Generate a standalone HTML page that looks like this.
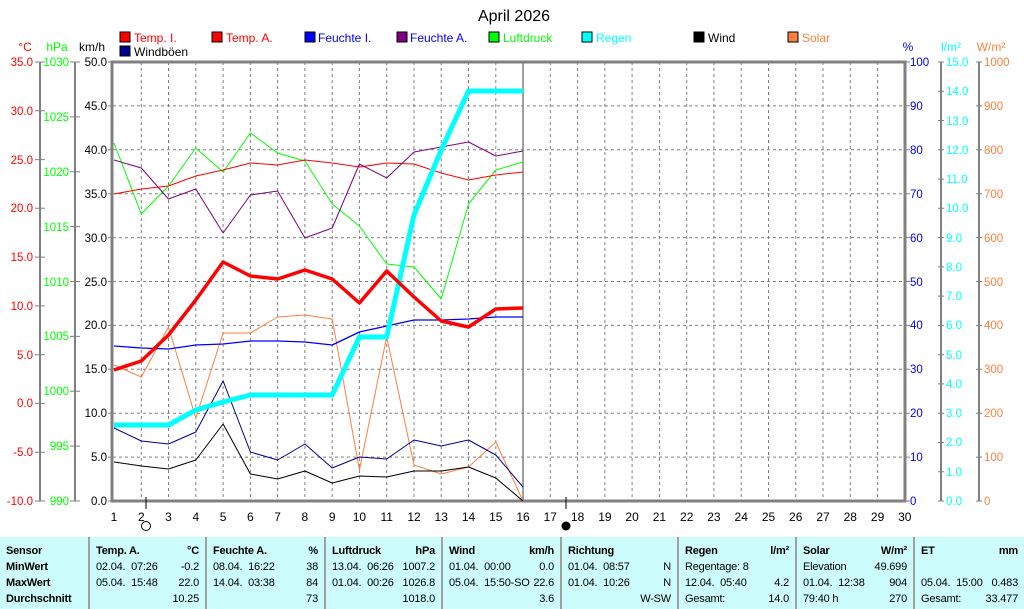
<!DOCTYPE html>
<html><head><meta charset="utf-8"><style>
body{margin:0;width:1024px;height:609px;background:#fff;overflow:hidden;font-family:"Liberation Sans",sans-serif}
svg text{font-family:"Liberation Sans",sans-serif}
.tb{position:absolute;left:0;top:537px;width:1024px;height:72px;background:#ccfcfc;font-size:11px;letter-spacing:-0.2px}
.col{position:absolute;top:0;height:72px;border-left:2px solid #a0a0a0;box-sizing:border-box}
.r{position:absolute;left:6px;right:6px;height:16px;white-space:nowrap}
.r span{position:absolute;right:0}
.b{font-weight:bold}
</style></head><body>
<svg width="1024" height="537" style="position:absolute;left:0;top:0">
<text x="514" y="21" font-size="16" text-anchor="middle">April 2026</text>
<g font-size="12">
<rect x="120" y="32" width="10" height="10" fill="#f00" stroke="#000"/><text x="134" y="42" fill="#f00">Temp. I.</text>
<rect x="212" y="32" width="10" height="10" fill="#f00" stroke="#000"/><text x="226" y="42" fill="#f00">Temp. A.</text>
<rect x="305" y="32" width="10" height="10" fill="#00f" stroke="#000"/><text x="318" y="42" fill="#00f">Feuchte I.</text>
<rect x="397" y="32" width="10" height="10" fill="#800080" stroke="#000"/><text x="410" y="42" fill="#00f">Feuchte A.</text>
<rect x="489" y="32" width="10" height="10" fill="#0f0" stroke="#000"/><text x="503" y="42" fill="#0f0">Luftdruck</text>
<rect x="582" y="32" width="10" height="10" fill="#0ff" stroke="#000"/><text x="596" y="42" fill="#0ff">Regen</text>
<rect x="694" y="32" width="10" height="10" fill="#000" stroke="#000"/><text x="708" y="42" fill="#000">Wind</text>
<rect x="788" y="32" width="10" height="10" fill="#ff7f3f" stroke="#000"/><text x="802" y="42" fill="#ff7f3f">Solar</text>
<rect x="120" y="46" width="10" height="10" fill="#000090" stroke="#000"/><text x="134" y="56" fill="#000">Windböen</text>
<text x="25" y="51" fill="#f00" text-anchor="middle">°C</text>
<text x="57" y="51" fill="#0f0" text-anchor="middle">hPa</text>
<text x="92" y="51" fill="#000" text-anchor="middle">km/h</text>
<text x="908" y="51" fill="#00f" text-anchor="middle">%</text>
<text x="951" y="51" fill="#0ff" text-anchor="middle">l/m²</text>
<text x="991" y="51" fill="#ff7f3f" text-anchor="middle">W/m²</text>
</g>
<g stroke="#808080" stroke-dasharray="3,3" stroke-width="1">
<path d="M113 105.9H905M113 149.8H905M113 193.7H905M113 237.6H905M113 281.5H905M113 325.4H905M113 369.3H905M113 413.2H905M113 457.1H905"/>
<path d="M141.3 62V501M168.5 62V501M195.8 62V501M223.1 62V501M250.4 62V501M277.6 62V501M304.9 62V501M332.2 62V501M359.4 62V501M386.7 62V501M414 62V501M441.2 62V501M468.5 62V501M495.8 62V501M550.3 62V501M577.6 62V501M604.9 62V501M632.1 62V501M659.4 62V501M686.7 62V501M713.9 62V501M741.2 62V501M768.5 62V501M795.7 62V501M823 62V501M850.3 62V501M877.6 62V501"/>
</g>
<g stroke="#808080" fill="none">
<path d="M523 62V501" stroke-width="1.5"/>
<path d="M112 62H905V501H112Z" stroke-width="3"/>
<path d="M40 62V501M75 62V501M941 62V501M979 62V501" stroke-width="2"/>
<path d="M35 62h10M35 110.8h10M35 159.6h10M35 208.3h10M35 257.1h10M35 305.9h10M35 354.7h10M35 403.4h10M35 452.2h10M35 501h10"/>
<path d="M70 62h10M70 116.9h10M70 171.8h10M70 226.6h10M70 281.5h10M70 336.4h10M70 391.2h10M70 446.1h10M70 501h10"/>
<path d="M108 62h5M108 105.9h5M108 149.8h5M108 193.7h5M108 237.6h5M108 281.5h5M108 325.4h5M108 369.3h5M108 413.2h5M108 457.1h5M108 501h5"/>
<path d="M905 62h5M905 105.9h5M905 149.8h5M905 193.7h5M905 237.6h5M905 281.5h5M905 325.4h5M905 369.3h5M905 413.2h5M905 457.1h5M905 501h5"/>
<path d="M938 62h6M938 91.3h6M938 120.5h6M938 149.8h6M938 179.1h6M938 208.3h6M938 237.6h6M938 266.9h6M938 296.1h6M938 325.4h6M938 354.7h6M938 383.9h6M938 413.2h6M938 442.5h6M938 471.7h6M938 501h6"/>
<path d="M976 62h6M976 105.9h6M976 149.8h6M976 193.7h6M976 237.6h6M976 281.5h6M976 325.4h6M976 369.3h6M976 413.2h6M976 457.1h6M976 501h6"/>
</g>
<g stroke="#000" fill="none"><path d="M146 497V509M566 497V509"/><circle cx="146" cy="526" r="4.5"/></g>
<circle cx="566" cy="526" r="4.5" fill="#000"/>
<g font-size="11.5" text-anchor="end">
<g fill="#f00"><text x="33" y="66">35.0</text><text x="33" y="115">30.0</text><text x="33" y="164">25.0</text><text x="33" y="212">20.0</text><text x="33" y="261">15.0</text><text x="33" y="310">10.0</text><text x="33" y="359">5.0</text><text x="33" y="407">0.0</text><text x="33" y="456">-5.0</text><text x="33" y="505">-10.0</text></g>
<g fill="#0f0"><text x="69" y="66">1030</text><text x="69" y="121">1025</text><text x="69" y="176">1020</text><text x="69" y="231">1015</text><text x="69" y="286">1010</text><text x="69" y="340">1005</text><text x="69" y="395">1000</text><text x="69" y="450">995</text><text x="69" y="505">990</text></g>
<g fill="#000"><text x="107" y="66">50.0</text><text x="107" y="110">45.0</text><text x="107" y="154">40.0</text><text x="107" y="198">35.0</text><text x="107" y="242">30.0</text><text x="107" y="286">25.0</text><text x="107" y="329">20.0</text><text x="107" y="373">15.0</text><text x="107" y="417">10.0</text><text x="107" y="461">5.0</text><text x="107" y="505">0.0</text></g>
</g>
<g font-size="11.5">
<g fill="#00f"><text x="910" y="66">100</text><text x="910" y="110">90</text><text x="910" y="154">80</text><text x="910" y="198">70</text><text x="910" y="242">60</text><text x="910" y="286">50</text><text x="910" y="329">40</text><text x="910" y="373">30</text><text x="910" y="417">20</text><text x="910" y="461">10</text><text x="910" y="505">0</text></g>
<g fill="#0ff"><text x="946" y="66">15.0</text><text x="946" y="95">14.0</text><text x="946" y="125">13.0</text><text x="946" y="154">12.0</text><text x="946" y="183">11.0</text><text x="946" y="212">10.0</text><text x="946" y="242">9.0</text><text x="946" y="271">8.0</text><text x="946" y="300">7.0</text><text x="946" y="329">6.0</text><text x="946" y="359">5.0</text><text x="946" y="388">4.0</text><text x="946" y="417">3.0</text><text x="946" y="446">2.0</text><text x="946" y="476">1.0</text><text x="946" y="505">0.0</text></g>
<g fill="#ff7f3f"><text x="984" y="66">1000</text><text x="984" y="110">900</text><text x="984" y="154">800</text><text x="984" y="198">700</text><text x="984" y="242">600</text><text x="984" y="286">500</text><text x="984" y="329">400</text><text x="984" y="373">300</text><text x="984" y="417">200</text><text x="984" y="461">100</text><text x="984" y="505">0</text></g>
</g>
<g font-size="12" text-anchor="middle" fill="#000">
<text x="114" y="521">1</text><text x="141.3" y="521">2</text><text x="168.5" y="521">3</text><text x="195.8" y="521">4</text><text x="223.1" y="521">5</text><text x="250.4" y="521">6</text><text x="277.6" y="521">7</text><text x="304.9" y="521">8</text><text x="332.2" y="521">9</text><text x="359.4" y="521">10</text><text x="386.7" y="521">11</text><text x="414" y="521">12</text><text x="441.2" y="521">13</text><text x="468.5" y="521">14</text><text x="495.8" y="521">15</text><text x="523" y="521">16</text><text x="550.3" y="521">17</text><text x="577.6" y="521">18</text><text x="604.9" y="521">19</text><text x="632.1" y="521">20</text><text x="659.4" y="521">21</text><text x="686.7" y="521">22</text><text x="713.9" y="521">23</text><text x="741.2" y="521">24</text><text x="768.5" y="521">25</text><text x="795.7" y="521">26</text><text x="823" y="521">27</text><text x="850.3" y="521">28</text><text x="877.6" y="521">29</text><text x="904.8" y="521">30</text>
</g>
<g fill="none" stroke-linejoin="round">
<polyline stroke="#ff7f3f" points="114,365 141.3,377 168.5,327 195.8,418 223.1,333 250.4,333 277.6,317 304.9,315 332.2,319 359.4,470 386.7,337 414,465 441.2,474 468.5,467 495.8,442 523,501"/>
<polyline stroke="#000" points="114,462 141.3,466 168.5,469 195.8,460 223.1,424 250.4,474 277.6,479 304.9,471 332.2,483 359.4,476 386.7,477 414,471 441.2,471 468.5,467 495.8,478 523,501"/>
<polyline stroke="#000090" points="114,428 141.3,441 168.5,444 195.8,432 223.1,381 250.4,452 277.6,460 304.9,444 332.2,468 359.4,457 386.7,459 414,440 441.2,446 468.5,440 495.8,455 523,487"/>
<polyline stroke="#0f0" points="114,143 141.3,214 168.5,186 195.8,148 223.1,172 250.4,133 277.6,153 304.9,161 332.2,204 359.4,226 386.7,264 414,267 441.2,299 468.5,204 495.8,170 523,162"/>
<polyline stroke="#800080" points="114,160 141.3,168 168.5,199 195.8,189 223.1,233 250.4,195 277.6,191 304.9,238 332.2,228 359.4,164 386.7,178 414,152 441.2,147 468.5,142 495.8,156 523,151"/>
<polyline stroke="#00f" stroke-width="1.3" points="114,346 141.3,348 168.5,349 195.8,345 223.1,344 250.4,341 277.6,341 304.9,342 332.2,345 359.4,332 386.7,326 414,320 441.2,320 468.5,319 495.8,317 523,317"/>
<polyline stroke="#f00" points="114,194 141.3,189 168.5,186 195.8,176 223.1,170 250.4,163 277.6,165 304.9,160 332.2,163 359.4,167 386.7,163 414,164 441.2,173 468.5,180 495.8,175 523,172"/>
<polyline stroke="#0ff" stroke-width="5" points="114,425 141.3,425 168.5,425 195.8,410 223.1,402 250.4,395 277.6,395 304.9,395 332.2,395 359.4,337 386.7,337 414,215 441.2,150 468.5,91 495.8,91 523,91"/>
<polyline stroke="#f00" stroke-width="3.5" points="114,370 141.3,361 168.5,335 195.8,300 223.1,262 250.4,276 277.6,279 304.9,270 332.2,279 359.4,303 386.7,271 414,297 441.2,321 468.5,327 495.8,309 523,308"/>
</g>
</svg>
<div class="tb">
<div class="col" style="left:0;width:88px;border-left:none">
<div class="r b" style="top:8px">Sensor</div><div class="r b" style="top:24px">MinWert</div><div class="r b" style="top:40px">MaxWert</div><div class="r b" style="top:56px">Durchschnitt</div></div>
<div class="col" style="left:88px;width:117px">
<div class="r b" style="top:8px">Temp. A.<span>°C</span></div><div class="r" style="top:24px">02.04.&nbsp; 07:26<span>-0.2</span></div><div class="r" style="top:40px">05.04.&nbsp; 15:48<span>22.0</span></div><div class="r" style="top:56px"><span>10.25</span></div></div>
<div class="col" style="left:205px;width:119px">
<div class="r b" style="top:8px">Feuchte A.<span>%</span></div><div class="r" style="top:24px">08.04.&nbsp; 16:22<span>38</span></div><div class="r" style="top:40px">14.04.&nbsp; 03:38<span>84</span></div><div class="r" style="top:56px"><span>73</span></div></div>
<div class="col" style="left:324px;width:117px">
<div class="r b" style="top:8px">Luftdruck<span>hPa</span></div><div class="r" style="top:24px">13.04.&nbsp; 06:26<span>1007.2</span></div><div class="r" style="top:40px">01.04.&nbsp; 00:26<span>1026.8</span></div><div class="r" style="top:56px"><span>1018.0</span></div></div>
<div class="col" style="left:441px;width:119px">
<div class="r b" style="top:8px">Wind<span>km/h</span></div><div class="r" style="top:24px">01.04.&nbsp; 00:00<span>0.0</span></div><div class="r" style="top:40px">05.04.&nbsp; 15:50-SO<span>22.6</span></div><div class="r" style="top:56px"><span>3.6</span></div></div>
<div class="col" style="left:560px;width:117px">
<div class="r b" style="top:8px">Richtung</div><div class="r" style="top:24px">01.04.&nbsp; 08:57<span>N</span></div><div class="r" style="top:40px">01.04.&nbsp; 10:26<span>N</span></div><div class="r" style="top:56px"><span>W-SW</span></div></div>
<div class="col" style="left:677px;width:118px">
<div class="r b" style="top:8px">Regen<span>l/m²</span></div><div class="r" style="top:24px">Regentage: 8</div><div class="r" style="top:40px">12.04.&nbsp; 05:40<span>4.2</span></div><div class="r" style="top:56px">Gesamt:<span>14.0</span></div></div>
<div class="col" style="left:795px;width:118px">
<div class="r b" style="top:8px">Solar<span>W/m²</span></div><div class="r" style="top:24px">Elevation<span>49.699</span></div><div class="r" style="top:40px">01.04.&nbsp; 12:38<span>904</span></div><div class="r" style="top:56px">79:40 h<span>270</span></div></div>
<div class="col" style="left:913px;width:111px">
<div class="r b" style="top:8px">ET<span>mm</span></div><div class="r" style="top:40px">05.04.&nbsp; 15:00<span>0.483</span></div><div class="r" style="top:56px">Gesamt:<span>33.477</span></div></div>
</div>
</body></html>
